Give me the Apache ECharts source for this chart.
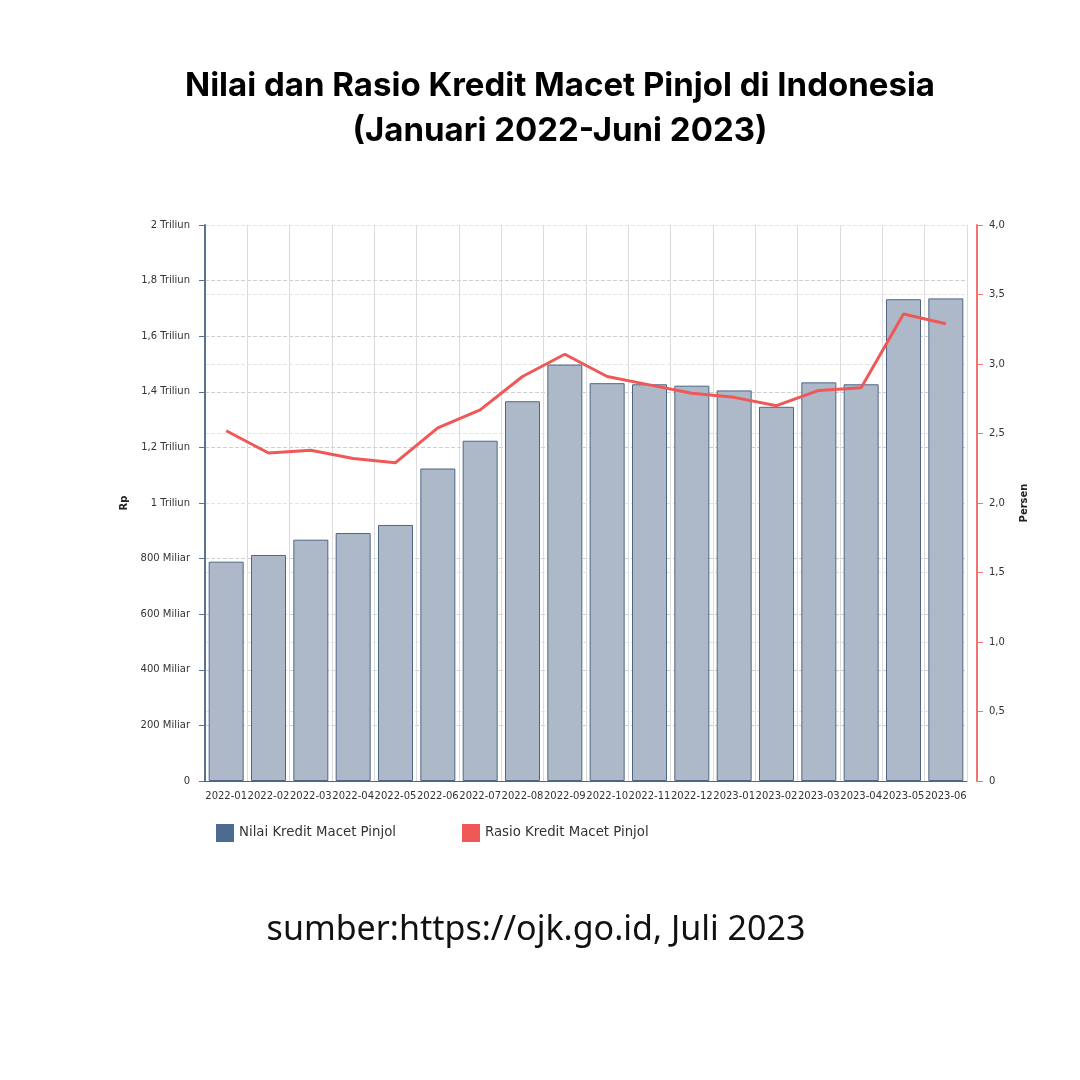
<!DOCTYPE html>
<html>
<head>
<meta charset="utf-8">
<title>Kredit Macet Pinjol</title>
<script src="https://cdn.jsdelivr.net/npm/echarts@6/dist/echarts.min.js"></script>
<style>
  html, body { margin: 0; padding: 0; background: #fff; }
  #chart { width: 1080px; height: 1080px; }
</style>
</head>
<body>
<div id="chart"></div>
<script>
// data (nilai dalam miliar rupiah, rasio dalam persen)
var bulan = ['2022-01','2022-02','2022-03','2022-04','2022-05','2022-06','2022-07','2022-08','2022-09',
             '2022-10','2022-11','2022-12','2023-01','2023-02','2023-03','2023-04','2023-05','2023-06'];
var nilaiMacet = [789, 813, 868, 892, 921, 1124, 1224, 1366, 1498, 1431, 1427, 1422, 1405, 1346, 1434, 1427, 1733, 1736];
var rasioMacet = [2.52, 2.36, 2.38, 2.32, 2.29, 2.54, 2.67, 2.91, 3.07, 2.91, 2.85, 2.79, 2.76, 2.70, 2.81, 2.83, 3.36, 3.29];
var namaSeri = ['Nilai Kredit Macet Pinjol', 'Rasio Kredit Macet Pinjol'];

var warnaBar = '#adb9c8', warnaBarTepi = '#4e6686', warnaLegend = '#4d6a8f', warnaMerah = '#f05757';
var fontAxis = 'DejaVu Sans';

function fmtRp(v) {
  if (v == 0) return '0';
  if (v >= 1000) return String(v / 1000).replace('.', ',') + ' Triliun';
  return v + ' Miliar';
}
function fmtPersen(v) {
  if (v == 0) return '0';
  return v.toFixed(1).replace('.', ',');
}

var myChart = echarts.init(document.getElementById('chart'));
var option = {
  backgroundColor: '#fff',
  animation: false,
  graphic: [
    {
      type: 'text', x: 560, y: 86,
      style: {
        text: 'Nilai dan Rasio Kredit Macet Pinjol di Indonesia',
        textAlign: 'center', textVerticalAlign: 'middle',
        font: 'bold 33px Inter', fill: '#000'
      }
    },
    {
      type: 'text', x: 560, y: 131,
      style: {
        text: '(Januari 2022-Juni 2023)',
        textAlign: 'center', textVerticalAlign: 'middle',
        font: 'bold 33px Inter', fill: '#000'
      }
    },
    {
      type: 'text', x: 536, y: 930,
      style: {
        text: 'sumber:https://ojk.go.id, Juli 2023',
        textAlign: 'center', textVerticalAlign: 'middle',
        font: '34px "Noto Sans"', fill: '#111'
      }
    }
  ],
  legend: {
    left: 216, top: 824, padding: 0,
    itemWidth: 18, itemHeight: 18, itemGap: 66,
    textStyle: { fontFamily: fontAxis, fontSize: 13.3, color: '#333' },
    data: [
      { name: namaSeri[0], icon: 'rect', itemStyle: { color: warnaLegend, borderWidth: 0 } },
      { name: namaSeri[1], icon: 'rect', itemStyle: { color: warnaMerah } }
    ]
  },
  grid: { left: 205, right: 113, top: 225, bottom: 299, containLabel: false },
  xAxis: {
    type: 'category',
    data: bulan,
    axisLine: { lineStyle: { color: '#4e6686', width: 1 } },
    axisTick: { show: false },
    axisLabel: { interval: 0, fontFamily: fontAxis, fontSize: 10, color: '#333', margin: 10 },
    splitLine: { show: true, lineStyle: { color: '#dcdcdc', width: 1 } }
  },
  yAxis: [
    {
      type: 'value', min: 0, max: 2000, interval: 200,
      name: 'Rp', nameLocation: 'middle', nameGap: 72, nameRotate: 90,
      nameTextStyle: { fontFamily: fontAxis, fontSize: 10, fontWeight: 'bold', color: '#222' },
      axisLine: { show: true, lineStyle: { color: '#5a7294', width: 2 } },
      axisTick: { show: true, length: 6, lineStyle: { color: '#5a7294' } },
      axisLabel: { formatter: fmtRp, fontFamily: fontAxis, fontSize: 10, color: '#333', margin: 15 },
      splitLine: { show: true, lineStyle: { color: '#cfcfcf', type: 'dashed', width: 1 } }
    },
    {
      type: 'value', min: 0, max: 4, interval: 0.5,
      position: 'right', offset: 10,
      name: 'Persen', nameLocation: 'middle', nameGap: 42, nameRotate: 90,
      nameTextStyle: { fontFamily: fontAxis, fontSize: 10, fontWeight: 'bold', color: '#222' },
      axisLine: { show: true, lineStyle: { color: '#f27272', width: 2 } },
      axisTick: { show: true, length: 6, lineStyle: { color: '#f27272' } },
      axisLabel: { formatter: fmtPersen, fontFamily: fontAxis, fontSize: 10, color: '#333', margin: 12 },
      splitLine: { show: true, lineStyle: { color: '#e4e4e4', type: 'dashed', width: 1 } }
    }
  ],
  series: [
    {
      name: namaSeri[0],
      type: 'bar',
      yAxisIndex: 0,
      barWidth: 35,
      data: nilaiMacet,
      itemStyle: { color: warnaBar, borderColor: warnaBarTepi, borderWidth: 1 }
    },
    {
      name: namaSeri[1],
      type: 'line',
      yAxisIndex: 1,
      data: rasioMacet,
      showSymbol: false,
      symbol: 'none',
      lineStyle: { color: warnaMerah, width: 3 },
      itemStyle: { color: warnaMerah },
      z: 5
    }
  ]
};
myChart.setOption(option);
</script>
</body>
</html>
